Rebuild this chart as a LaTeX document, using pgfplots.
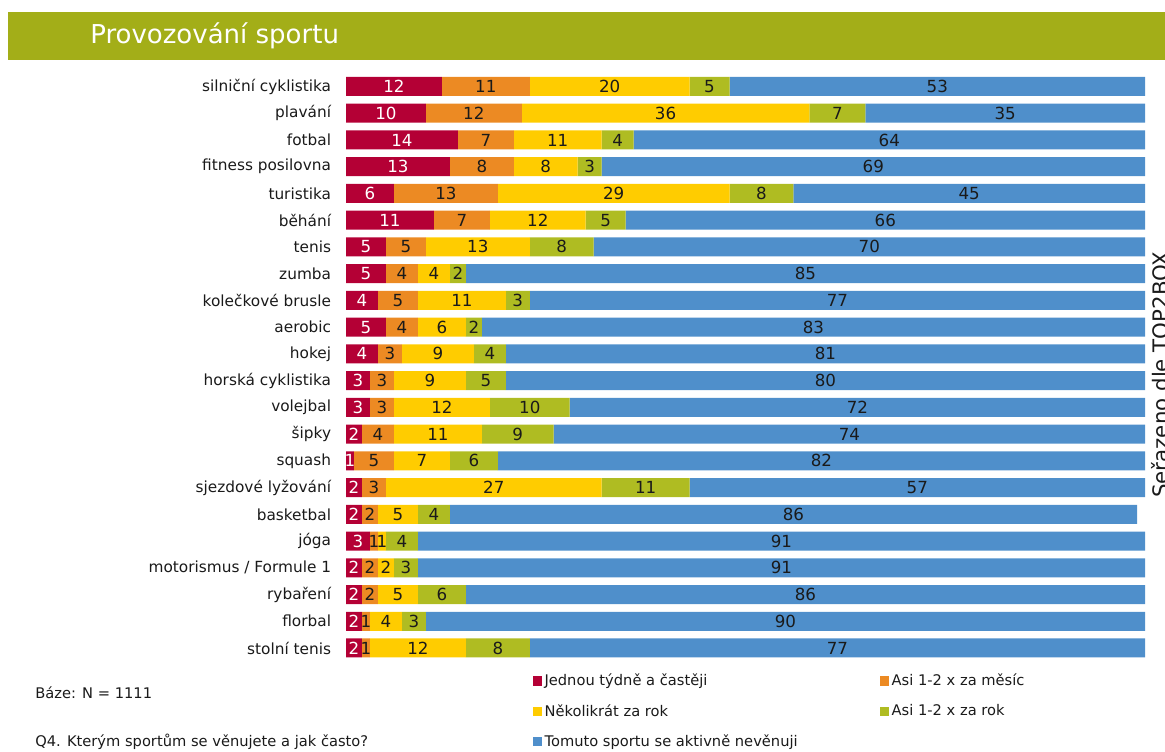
\documentclass[border=0pt]{standalone}
\usepackage{pgfplots}
\usepackage{pgfplotstable}
\pgfplotsset{compat=1.18}
\usepackage{fontspec}
\setmainfont{DejaVu Sans}
\definecolor{cRed}{HTML}{B40035}
\definecolor{cOrange}{HTML}{EC8A23}
\definecolor{cYellow}{HTML}{FFCC00}
\definecolor{cGreen}{HTML}{AFBC22}
\definecolor{cBlue}{HTML}{4F8FCB}
\definecolor{cBand}{HTML}{A3AE18}
\definecolor{cText}{HTML}{1A1A1A}

\pgfplotstableread[col sep=comma]{
idx,a,b,c,d,e
0,12,11,20,5,53
1,10,12,36,7,35
2,14,7,11,4,64
3,13,8,8,3,69
4,6,13,29,8,45
5,11,7,12,5,66
6,5,5,13,8,70
7,5,4,4,2,85
8,4,5,11,3,77
9,5,4,6,2,83
10,4,3,9,4,81
11,3,3,9,5,80
12,3,3,12,10,72
13,2,4,11,9,74
14,1,5,7,6,82
15,2,3,27,11,57
16,2,2,5,4,86
17,3,1,1,4,91
18,2,2,2,3,91
19,2,2,5,6,86
20,2,1,4,3,90
21,2,1,12,8,77
}\data
\pgfplotstablecreatecol[create col/expr={\thisrow{a}/2}]{ca}\data
\pgfplotstablecreatecol[create col/expr={\thisrow{a}+\thisrow{b}/2}]{cb}\data
\pgfplotstablecreatecol[create col/expr={\thisrow{a}+\thisrow{b}+\thisrow{c}/2}]{cc}\data
\pgfplotstablecreatecol[create col/expr={\thisrow{a}+\thisrow{b}+\thisrow{c}+\thisrow{d}/2}]{cd}\data
\pgfplotstablecreatecol[create col/expr={(2*(\thisrow{a}+\thisrow{b}+\thisrow{c}+\thisrow{d})+\thisrow{e}-max(0,\thisrow{a}+\thisrow{b}+\thisrow{c}+\thisrow{d}+\thisrow{e}-100))/2}]{ce}\data

\pgfplotsset{
  sqlegend/.style={legend image code/.code={\fill[##1] (0pt,-3.5pt) rectangle (6.5pt,3.5pt);}},
  geom/.style={at={(259.5pt,509.175pt)}, anchor=north west, scale only axis,
    width=599.25pt, height=441.2pt, xmin=0, xmax=100, ymin=-0.5, ymax=21.5, y dir=reverse},
  lbl/.style={draw=none, mark=none, nodes near coords, point meta=explicit symbolic,
    every node near coord/.append style={anchor=center, font=\fontsize{12.5}{14}\selectfont, text=#1}},
}

\begin{document}
\begin{tikzpicture}
\fill[cBand] (6pt,555pt) rectangle (873.75pt,519pt);
\node[anchor=west, text=white, font=\fontsize{19.5}{23}\selectfont, inner sep=0pt] at (67.5pt,537pt) {Provozování sportu};

\begin{axis}[geom,
  xbar stacked, bar width=14.25pt,
  axis line style={draw=none}, tick style={draw=none}, major tick length=0pt,
  xtick=\empty, ytick={0,...,21},
  yticklabels={silniční cyklistika,plavání,fotbal,fitness posilovna,turistika,běhání,tenis,zumba,kolečkové brusle,aerobic,hokej,horská cyklistika,volejbal,šipky,squash,sjezdové lyžování,basketbal,jóga,motorismus / Formule 1,rybaření,florbal,stolní tenis},
  yticklabel style={font=\fontsize{11.5}{13}\selectfont, text=cText, inner sep=0pt, xshift=-11pt},
  legend cell align=left,
  legend style={draw=none, fill=none, at={(axis description cs:0.229,-0.012)}, anchor=north west,
    legend columns=2, font=\fontsize{11}{13}\selectfont, text=cText,
    /tikz/every even column/.append style={column sep=60pt}, row sep=8.5pt},
]
\addplot[fill=cRed, draw=none, sqlegend] table[x=a, y=idx] {\data};
\addplot[fill=cOrange, draw=none, sqlegend] table[x=b, y=idx] {\data};
\addplot[fill=cYellow, draw=none, sqlegend] table[x=c, y=idx] {\data};
\addplot[fill=cGreen, draw=none, sqlegend] table[x=d, y=idx] {\data};
\addplot[fill=cBlue, draw=none, sqlegend] table[x=e, y=idx] {\data};
\legend{Jednou týdně a častěji, Asi 1-2 x za měsíc, Několikrát za rok, Asi 1-2 x za rok, Tomuto sportu se aktivně nevěnuji}
\end{axis}

\begin{axis}[geom, hide axis, clip=false]
\addplot[lbl=white] table[x=ca, y=idx, meta=a] {\data};
\addplot[lbl=cText] table[x=cb, y=idx, meta=b] {\data};
\addplot[lbl=cText] table[x=cc, y=idx, meta=c] {\data};
\addplot[lbl=cText] table[x=cd, y=idx, meta=d] {\data};
\addplot[lbl=cText] table[x=ce, y=idx, meta=e] {\data};
\end{axis}

\node[anchor=west, inner sep=0pt, text=cText, font=\fontsize{11}{13}\selectfont] at (26.25pt,44.25pt) {Báze: N = 1111};
\node[anchor=west, inner sep=0pt, text=cText, font=\fontsize{11}{13}\selectfont] at (26.25pt,7.5pt) {Q4. Kterým sportům se věnujete a jak často?};
\node[rotate=90, anchor=north, inner sep=0pt, text=cText, font=\fontsize{16}{18}\selectfont] at (863pt,283pt) {Seřazeno dle TOP2BOX};

\pgfresetboundingbox
\useasboundingbox (0pt,0pt) rectangle (873.75pt,564pt);
\end{tikzpicture}
\end{document}
